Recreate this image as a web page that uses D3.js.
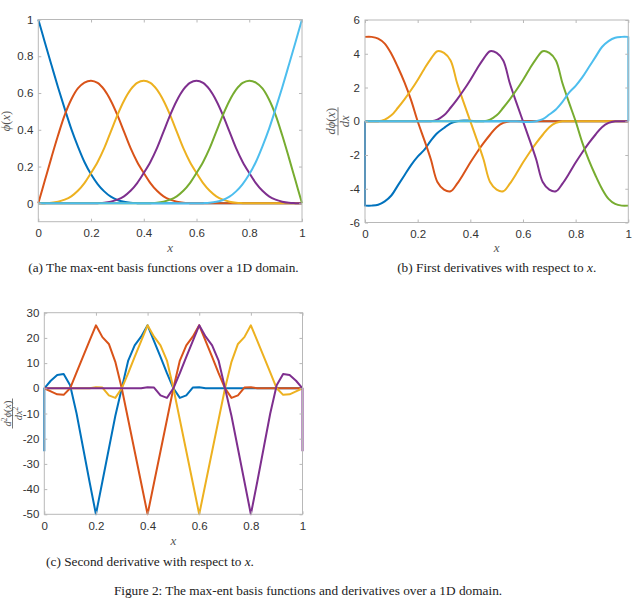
<!DOCTYPE html>
<html>
<head>
<meta charset="utf-8">
<script src="https://cdn.jsdelivr.net/npm/d3@7"></script>
<style>
  body { margin: 0; background: #fff; }
  svg { display: block; }
</style>
</head>
<body>
<svg id="fig" width="642" height="600"></svg>
<script>
// x samples: 0, 0.025, ..., 1
var xs = d3.range(41).map(function(i) { return i / 40; });
var xTicks = [0, 0.2, 0.4, 0.6, 0.8, 1];
var colors = ["#0072BD", "#D95319", "#EDB120", "#7E2F8E", "#77AC30", "#4DBEEE"];

// (a) basis functions phi(x), one array per node (0, 0.2, ..., 1)
var phi0 = [1, 0.875, 0.752, 0.63, 0.515, 0.405, 0.31, 0.225, 0.158, 0.105,
  0.065, 0.036, 0.018, 0.008, 0.003, 0.001, 0, 0, 0, 0,
  0, 0, 0, 0, 0, 0, 0, 0, 0, 0,
  0, 0, 0, 0, 0, 0, 0, 0, 0, 0, 0];
var phi1 = [0, 0.125, 0.25, 0.37, 0.48, 0.565, 0.625, 0.657, 0.667, 0.655,
  0.618, 0.558, 0.48, 0.39, 0.30, 0.225, 0.165, 0.11, 0.068, 0.038,
  0.02, 0.009, 0.003, 0.001, 0, 0, 0, 0, 0, 0,
  0, 0, 0, 0, 0, 0, 0, 0, 0, 0, 0];
var phi2 = [0, 0.001, 0.003, 0.009, 0.02, 0.038, 0.068, 0.11, 0.165, 0.225,
  0.30, 0.39, 0.48, 0.558, 0.618, 0.655, 0.667, 0.655, 0.618, 0.558,
  0.48, 0.39, 0.30, 0.225, 0.165, 0.11, 0.068, 0.038, 0.02, 0.009,
  0.003, 0.001, 0, 0, 0, 0, 0, 0, 0, 0, 0];
var phi3 = [0, 0, 0, 0, 0, 0, 0, 0, 0, 0.001,
  0.003, 0.009, 0.02, 0.038, 0.068, 0.11, 0.165, 0.225, 0.30, 0.39,
  0.48, 0.558, 0.618, 0.655, 0.667, 0.655, 0.618, 0.558, 0.48, 0.39,
  0.30, 0.225, 0.165, 0.11, 0.068, 0.038, 0.02, 0.009, 0.003, 0.001, 0];
var phi4 = [0, 0, 0, 0, 0, 0, 0, 0, 0, 0,
  0, 0, 0, 0, 0, 0, 0, 0.001, 0.003, 0.009,
  0.02, 0.038, 0.068, 0.11, 0.165, 0.225, 0.30, 0.39, 0.48, 0.558,
  0.618, 0.655, 0.667, 0.657, 0.625, 0.565, 0.48, 0.37, 0.25, 0.125, 0];
var phi5 = [0, 0, 0, 0, 0, 0, 0, 0, 0, 0,
  0, 0, 0, 0, 0, 0, 0, 0, 0, 0,
  0, 0, 0, 0, 0, 0.001, 0.003, 0.008, 0.018, 0.036,
  0.065, 0.105, 0.158, 0.225, 0.31, 0.405, 0.515, 0.63, 0.752, 0.875, 1];

// (b) first derivatives dphi/dx
var dphi0 = [-5, -5, -4.95, -4.75, -4.4, -3.8, -3.2, -2.6, -2.1, -1.7,
  -1.15, -0.7, -0.4, -0.12, 0, 0.05, 0.03, 0, 0, 0,
  0, 0, 0, 0, 0, 0, 0, 0, 0, 0,
  0, 0, 0, 0, 0, 0, 0, 0, 0, 0, 0];
var dphi1 = [5, 5, 4.9, 4.6, 4.0, 3.2, 2.3, 1.25, 0, -1.1,
  -2.25, -3.6, -4.05, -4.15, -3.7, -3.1, -2.45, -1.85, -1.3, -0.8,
  -0.35, -0.1, 0, 0, 0, 0, 0, 0, 0, 0,
  0, 0, 0, 0, 0, 0, 0, 0, 0, 0, 0];
var dphi2 = [0, 0, 0, 0.1, 0.35, 0.8, 1.3, 1.85, 2.45, 3.1,
  3.7, 4.15, 4.05, 3.6, 2.25, 1.1, 0, -1.1, -2.25, -3.6,
  -4.05, -4.15, -3.7, -3.1, -2.45, -1.85, -1.3, -0.8, -0.35, -0.1,
  0, 0, 0, 0, 0, 0, 0, 0, 0, 0, 0];
var dphi3 = [0, 0, 0, 0, 0, 0, 0, 0, 0, 0,
  0, 0.1, 0.35, 0.8, 1.3, 1.85, 2.45, 3.1, 3.7, 4.15,
  4.05, 3.6, 2.25, 1.1, 0, -1.1, -2.25, -3.6, -4.05, -4.15,
  -3.7, -3.1, -2.45, -1.85, -1.3, -0.8, -0.35, -0.1, 0, 0, 0];
var dphi4 = [0, 0, 0, 0, 0, 0, 0, 0, 0, 0,
  0, 0, 0, 0, 0, 0, 0, 0, 0, 0.1,
  0.35, 0.8, 1.3, 1.85, 2.45, 3.1, 3.7, 4.15, 4.05, 3.6,
  2.25, 1.1, 0, -1.25, -2.3, -3.2, -4.0, -4.6, -4.9, -5, -5];
var dphi5 = [0, 0, 0, 0, 0, 0, 0, 0, 0, 0,
  0, 0, 0, 0, 0, 0, 0, 0, 0, 0,
  0, 0, 0, 0, -0.03, -0.05, 0, 0.12, 0.4, 0.7,
  1.15, 1.7, 2.1, 2.6, 3.2, 3.8, 4.4, 4.75, 4.95, 5, 5];
// extra point drawn before x=0 / after x=1 (the vertical jumps)
var dStart = [0, null, null, null, null, null];
var dEnd = [null, null, null, null, null, 0];

// (c) second derivatives d2phi/dx2 (interior nodes 0.2 .. 0.8)
var ddphi1 = [0, 3.0, 5.3, 5.7, 1.2, -10, -23.5, -37, -50, -37,
  -24, -11, 0, 11, 17, 20.5, 25, 18.7, 12.5, 6,
  0, -3.8, -2.8, 0.3, 0.4, 0, 0, 0, 0, 0,
  0, 0, 0, 0, 0, 0, 0, 0, 0, 0, 0];
var ddphi2 = [0, -1.2, -2.4, -2.6, 0, 6.3, 12.6, 18.8, 25, 20.3,
  17.6, 10.5, 0, -12.5, -25, -37.5, -50, -37.5, -25, -12.5,
  0, 11, 17, 20.5, 25, 18.7, 12.5, 6, 0, -3.8,
  -2.8, 0.3, 0.4, 0, 0, 0, 0, 0, 0, 0, 0];
var ddphi3 = [0, 0, 0, 0, 0, 0, 0, 0, 0.4, 0.3,
  -2.8, -3.8, 0, 6, 12.5, 18.7, 25, 20.5, 17, 11,
  0, -12.5, -25, -37.5, -50, -37.5, -25, -12.5, 0, 10.5,
  17.6, 20.3, 25, 18.8, 12.6, 6.3, 0, -2.6, -2.4, -1.2, 0];
var ddphi4 = [0, 0, 0, 0, 0, 0, 0, 0, 0, 0,
  0, 0, 0, 0, 0, 0, 0.4, 0.3, -2.8, -3.8,
  0, 6, 12.5, 18.7, 25, 20.5, 17, 11, 0, -11,
  -24, -37, -50, -37, -23.5, -10, 1.2, 5.7, 5.3, 3.0, 0];
var ddStart = [-25, null, null, null];
var ddEnd = [null, null, null, -25];

var svg = d3.select("#fig");
var tickFont = "'Liberation Sans', Arial, Helvetica, sans-serif";
var mathFont = "'Liberation Serif', 'Times New Roman', serif";
var capSize = "13.3px";

function panel(cfg) {
  var g = svg.append("g");
  var x = d3.scaleLinear().domain([0, 1]).range([cfg.l, cfg.r]);
  var y = d3.scaleLinear().domain(cfg.yDomain).range([cfg.b, cfg.t]);

  var line = d3.line()
    .x(function(d) { return x(d[0]); })
    .y(function(d) { return y(d[1]); })
    .curve(cfg.curve);

  cfg.series.forEach(function(vals, k) {
    var pts = xs.map(function(xv, i) { return [xv, vals[i]]; });
    var d = line(pts);
    if (cfg.starts && cfg.starts[k] != null) {
      d = "M" + x(0) + "," + y(cfg.starts[k]) + "L" + d.slice(1);
    }
    if (cfg.ends && cfg.ends[k] != null) {
      d = d + "L" + x(1) + "," + y(cfg.ends[k]);
    }
    g.append("path")
      .attr("d", d)
      .attr("fill", "none")
      .attr("stroke", colors[k])
      .attr("stroke-width", 2)
      .attr("stroke-linejoin", "round");
  });

  // box
  g.append("rect")
    .attr("x", cfg.l).attr("y", cfg.t)
    .attr("width", cfg.r - cfg.l).attr("height", cfg.b - cfg.t)
    .attr("fill", "none").attr("stroke", "#b8b8b8").attr("stroke-width", 1);

  var fmt = function(d) { return String(d); };
  var axes = [
    g.append("g").attr("transform", "translate(0," + cfg.b + ")")
      .call(d3.axisBottom(x).tickValues(xTicks).tickFormat(fmt).tickSizeInner(-3).tickSizeOuter(0).tickPadding(7.4)),
    g.append("g").attr("transform", "translate(0," + cfg.t + ")")
      .call(d3.axisTop(x).tickValues(xTicks).tickFormat("").tickSizeInner(-3).tickSizeOuter(0)),
    g.append("g").attr("transform", "translate(" + cfg.l + ",0)")
      .call(d3.axisLeft(y).tickValues(cfg.yTicks).tickFormat(fmt).tickSizeInner(-3).tickSizeOuter(0).tickPadding(5)),
    g.append("g").attr("transform", "translate(" + cfg.r + ",0)")
      .call(d3.axisRight(y).tickValues(cfg.yTicks).tickFormat("").tickSizeInner(-3).tickSizeOuter(0))
  ];
  axes.forEach(function(a) {
    a.select(".domain").remove();
    a.selectAll(".tick line").attr("stroke", "#b8b8b8");
    a.selectAll(".tick text")
      .attr("fill", "#333")
      .style("font-family", tickFont)
      .style("font-size", "11.5px");
  });

  // x label
  g.append("text")
    .attr("x", (cfg.l + cfg.r) / 2).attr("y", cfg.xLabelY)
    .attr("text-anchor", "middle")
    .style("font-family", mathFont).style("font-style", "italic")
    .style("font-size", "13px").attr("fill", "#555")
    .text("x");

  // caption
  var cap = g.append("text")
    .attr("x", cfg.capX).attr("y", cfg.capY)
    .attr("text-anchor", "middle")
    .style("font-family", mathFont).style("font-size", capSize).attr("fill", "#222");
  cap.append("tspan").text(cfg.caption);
  if (cfg.captionX) {
    cap.append("tspan").style("font-style", "italic").text("x");
    cap.append("tspan").text(".");
  }
  return { x: x, y: y };
}

function mathText(sel, parts) {
  parts.forEach(function(p) {
    var t = sel.append("tspan").text(p.t);
    if (p.i) t.style("font-style", "italic");
    if (p.sup) t.attr("dy", -4).style("font-size", "7.5px");
    if (p.down) t.attr("dy", 4);
  });
}

// (a)
panel({
  l: 38.3, r: 302, t: 19.5, b: 221.7,
  yDomain: [-0.1, 1], yTicks: [0, 0.2, 0.4, 0.6, 0.8, 1],
  series: [phi0, phi1, phi2, phi3, phi4, phi5],
  curve: d3.curveCatmullRom.alpha(0.5),
  xLabelY: 251.5, capX: 163.5, capY: 272,
  caption: "(a) The max-ent basis functions over a 1D domain."
});
var la = svg.append("text")
  .attr("transform", "translate(9.5,121) rotate(-90)")
  .attr("text-anchor", "middle")
  .style("font-family", mathFont).style("font-size", "12.5px").attr("fill", "#555");
mathText(la, [{ t: "ϕ", i: true }, { t: "(" }, { t: "x", i: true }, { t: ")" }]);

// (b)
panel({
  l: 365, r: 628.3, t: 20, b: 222.5,
  yDomain: [-6, 6], yTicks: [-6, -4, -2, 0, 2, 4, 6],
  series: [dphi0, dphi1, dphi2, dphi3, dphi4, dphi5],
  starts: dStart, ends: dEnd,
  curve: d3.curveCatmullRom.alpha(0.5),
  xLabelY: 251.5, capX: 496.7, capY: 272,
  caption: "(b) First derivatives with respect to ", captionX: true
});
var fb = svg.append("g").attr("transform", "translate(338,121.25) rotate(-90)")
  .style("font-family", mathFont).style("font-size", "12.5px").attr("fill", "#555");
mathText(fb.append("text").attr("y", -3.5).attr("text-anchor", "middle"),
  [{ t: "d", i: true }, { t: "ϕ", i: true }, { t: "(" }, { t: "x", i: true }, { t: ")" }]);
fb.append("line").attr("x1", -14).attr("x2", 14).attr("stroke", "#555").attr("stroke-width", 0.8);
mathText(fb.append("text").attr("y", 11.3).attr("text-anchor", "middle"),
  [{ t: "dx", i: true }]);

// (c)
panel({
  l: 44.3, r: 302.5, t: 312.7, b: 514.3,
  yDomain: [-50, 30], yTicks: [-50, -40, -30, -20, -10, 0, 10, 20, 30],
  series: [ddphi1, ddphi2, ddphi3, ddphi4],
  starts: ddStart, ends: ddEnd,
  curve: d3.curveLinear,
  xLabelY: 545, capX: 150, capY: 566,
  caption: "(c) Second derivative with respect to ", captionX: true
});
var fc = svg.append("g").attr("transform", "translate(12.5,413.5) rotate(-90)")
  .style("font-family", mathFont).style("font-size", "10.5px").attr("fill", "#555");
mathText(fc.append("text").attr("y", -2).attr("text-anchor", "middle"),
  [{ t: "d", i: true }, { t: "2", sup: true }, { t: "ϕ", i: true, down: true }, { t: "(" }, { t: "x", i: true }, { t: ")" }]);
fc.append("line").attr("x1", -15).attr("x2", 15).attr("stroke", "#555").attr("stroke-width", 0.8);
mathText(fc.append("text").attr("y", 9).attr("text-anchor", "middle"),
  [{ t: "dx", i: true }, { t: "2", sup: true }]);

// figure caption
svg.append("text")
  .attr("x", 308).attr("y", 595)
  .attr("text-anchor", "middle")
  .style("font-family", mathFont).style("font-size", capSize).attr("fill", "#222")
  .text("Figure 2: The max-ent basis functions and derivatives over a 1D domain.");
</script>
</body>
</html>
